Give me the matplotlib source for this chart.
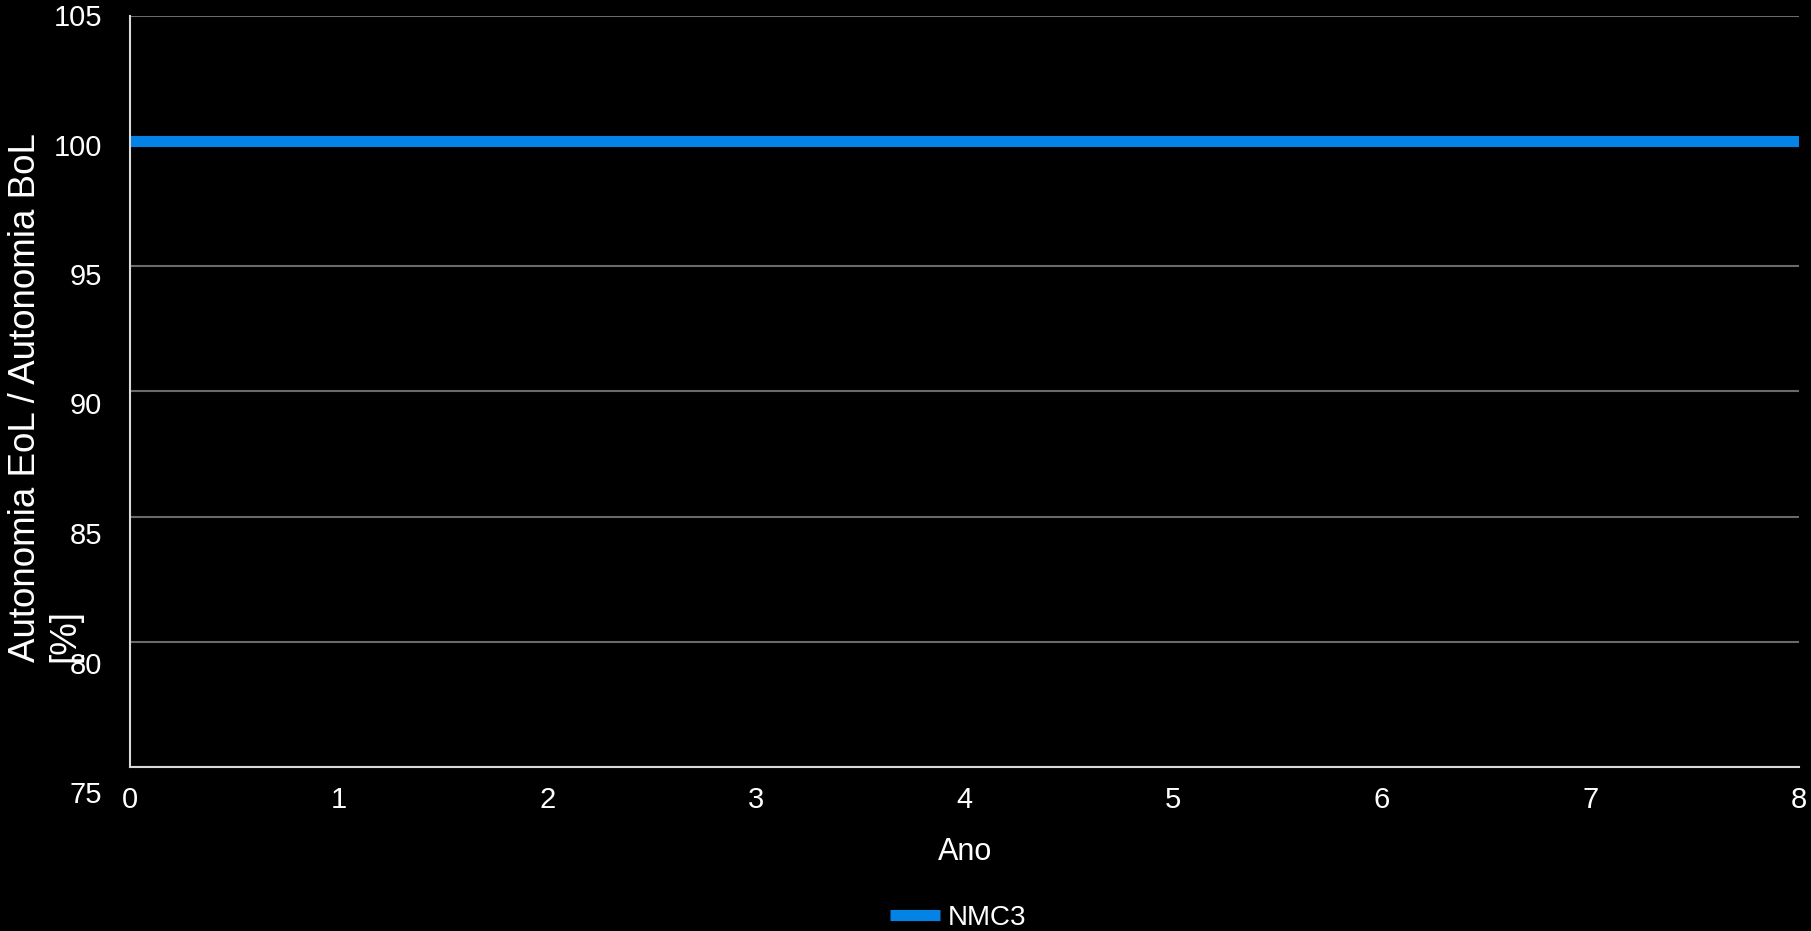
import matplotlib
matplotlib.use("Agg")
import matplotlib.pyplot as plt

# Data
anos = [0, 1, 2, 3, 4, 5, 6, 7, 8]
nmc3 = [100, 100, 100, 100, 100, 100, 100, 100, 100]
y_ticks = [75, 80, 85, 90, 95, 100, 105]
x_ticks = [0, 1, 2, 3, 4, 5, 6, 7, 8]
serie_nome = "NMC3"
x_label = "Ano"
y_label = "Autonomia EoL / Autonomia BoL\n[%]"

plt.rcParams['font.family'] = ['Liberation Sans', 'DejaVu Sans']

W, H = 1811, 931
fig = plt.figure(figsize=(W / 100, H / 100), dpi=100, facecolor='black')

# main axes (pixel geometry)
L, R, T, B = 130, 1799, 16, 767
ax = fig.add_axes([L / W, 1 - B / H, (R - L) / W, (B - T) / H])
ax.set_facecolor('black')
ax.plot(anos, nmc3, color='#0383E5', linewidth=8, solid_capstyle='butt', label=serie_nome, zorder=3)
ax.set_xlim(0, 8)
ax.set_ylim(75, 105)
ax.set_xticks(x_ticks)
ax.set_xticklabels([str(v) for v in x_ticks])
ax.set_yticks(y_ticks)
ax.tick_params(axis='y', length=0, labelleft=False)
ax.tick_params(axis='x', length=0, colors='white', labelsize=21, pad=14)
ax.grid(axis='y', color='#6a6a6a', linewidth=1.5)
ax.set_axisbelow(True)
for s in ['top', 'right']:
    ax.spines[s].set_visible(False)
for s in ['left', 'bottom']:
    ax.spines[s].set_color('#d9d9d9')
    ax.spines[s].set_linewidth(1.5)
    ax.spines[s].set_zorder(4)

# y tick labels (positioned on a slightly taller scale, as in the reference)
LT, LB = 15, 792
ax2 = fig.add_axes([L / W, 1 - LB / H, 0.0001, (LB - LT) / H])
ax2.set_ylim(75, 105)
ax2.set_yticks(y_ticks)
ax2.set_yticklabels([str(v) for v in y_ticks])
ax2.tick_params(axis='y', length=0, colors='white', labelsize=21, pad=20)
ax2.set_xticks([])
ax2.patch.set_visible(False)
for s in ax2.spines.values():
    s.set_visible(False)

fig.text(45 / W, 1 - 398 / H, y_label, rotation=90, ha='center', va='center',
         multialignment='left', color='white', fontsize=26.5, linespacing=1.15)
fig.text(965 / W, 1 - 852 / H, x_label, ha='center', va='center', color='white', fontsize=22)

leg = fig.legend(loc='center', bbox_to_anchor=(958 / W, 1 - 918 / H), frameon=False,
                 fontsize=20, handlelength=1.8, handletextpad=0.3, labelcolor='white')

fig.savefig('out.png', dpi=100, facecolor='black')
